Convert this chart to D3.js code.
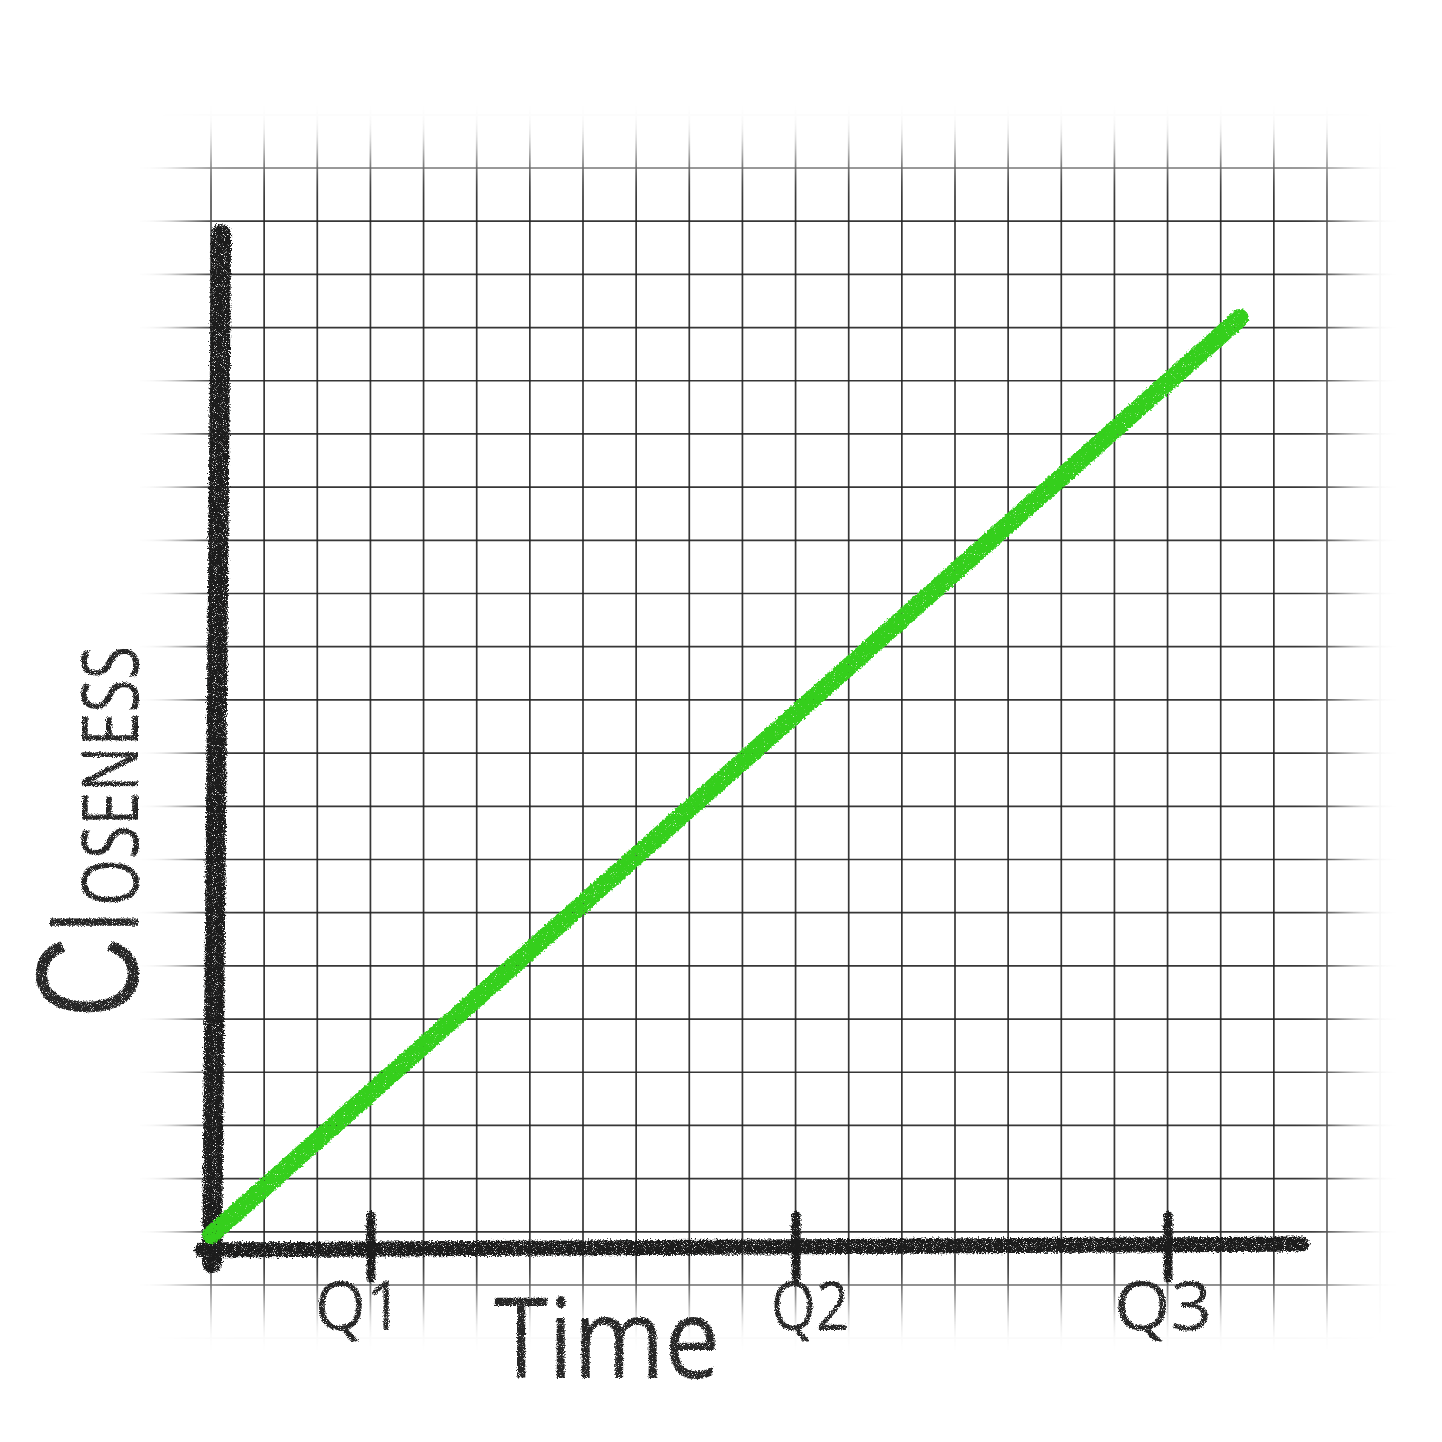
<!DOCTYPE html>
<html>
<head>
<meta charset="utf-8">
<script src="https://cdn.jsdelivr.net/npm/d3@7"></script>
<style>
  html, body { margin: 0; padding: 0; background: #ffffff; }
  svg { display: block; }
</style>
</head>
<body>
<svg id="chart" width="1442" height="1442"></svg>
<script>
// ---- data (grid units) ----
const quarters = ["Q1", "Q2", "Q3"];
const quarterTime = [3, 11, 18];
const lineTime = [0, 19.36];
const lineCloseness = [0.94, 18.18];
const xAxisTime = [-0.17, 20.53];
const xAxisCloseness = [0.66, 0.77];
const yAxisTime = [0.02, 0.19];
const yAxisCloseness = [0.41, 19.76];
const gridCols = d3.range(0, 23);
const gridRows = d3.range(-1, 23);
const xTitle = "Time";
const yTitle = ["C", "l", "oseness"];

const W = 1442, H = 1442;
const svg = d3.select("#chart");
svg.append("rect").attr("width", W).attr("height", H).attr("fill", "#ffffff");

const x = d3.scaleLinear().domain([0, 21]).range([211, 1327]);
const y = d3.scaleLinear().domain([0, 21]).range([1285, 168]);

const defs = svg.append("defs");
function region(sel) {
  return sel.attr("filterUnits", "userSpaceOnUse")
    .attr("x", -3000).attr("y", -3000).attr("width", 6000).attr("height", 6000);
}
// blur for mask
const blur = region(defs.append("filter").attr("id", "blur"));
blur.append("feGaussianBlur").attr("stdDeviation", 22);

const mask = defs.append("mask").attr("id", "fade")
  .attr("maskUnits", "userSpaceOnUse").attr("x", 0).attr("y", 0).attr("width", W).attr("height", H);
mask.append("rect").attr("x", 188).attr("y", 158).attr("width", 1156).attr("height", 1140)
  .attr("fill", "#fff").attr("filter", "url(#blur)");

// crayon texture filter
function crayon(id, scale, freq, seed, grainA, grainB) {
  const f = region(defs.append("filter").attr("id", id));
  f.append("feTurbulence").attr("type", "fractalNoise").attr("baseFrequency", freq)
    .attr("numOctaves", 2).attr("seed", seed).attr("result", "noise");
  f.append("feDisplacementMap").attr("in", "SourceGraphic").attr("in2", "noise")
    .attr("scale", scale).attr("xChannelSelector", "R").attr("yChannelSelector", "G").attr("result", "disp");
  f.append("feTurbulence").attr("type", "fractalNoise").attr("baseFrequency", 1.1)
    .attr("numOctaves", 1).attr("seed", seed + 7).attr("result", "grainNoise");
  f.append("feColorMatrix").attr("in", "grainNoise").attr("type", "matrix")
    .attr("values", `0 0 0 0 0  0 0 0 0 0  0 0 0 0 0  ${grainA} 0 0 0 ${grainB}`).attr("result", "grain");
  f.append("feComposite").attr("in", "disp").attr("in2", "grain").attr("operator", "in");
}
crayon("crayon", 6, 0.6, 3, 7, -1.8);
crayon("crayonText", 4, 0.7, 11, 7, -1.8);
crayon("crayonGreen", 4, 0.5, 5, 8, -1.6);

// ---- grid ----
const grid = svg.append("g").attr("mask", "url(#fade)")
  .attr("stroke", "#262626").attr("stroke-width", 1.7).attr("stroke-opacity", 0.92);
grid.selectAll("line.v").data(gridCols).join("line").attr("class", "v")
  .attr("x1", d => x(d)).attr("x2", d => x(d))
  .attr("y1", 90).attr("y2", 1410);
grid.selectAll("line.h").data(gridRows).join("line").attr("class", "h")
  .attr("y1", d => y(d)).attr("y2", d => y(d))
  .attr("x1", 140).attr("x2", 1410);

// ---- axes (thick crayon strokes) ----
const ink = "#1c1d1d";
svg.append("line")
  .attr("x1", x(yAxisTime[0])).attr("y1", y(yAxisCloseness[0]))
  .attr("x2", x(yAxisTime[1])).attr("y2", y(yAxisCloseness[1]))
  .attr("stroke", ink).attr("stroke-width", 20).attr("stroke-linecap", "round")
  .attr("filter", "url(#crayon)");
svg.append("line")
  .attr("x1", x(xAxisTime[0])).attr("y1", y(xAxisCloseness[0]))
  .attr("x2", x(xAxisTime[1])).attr("y2", y(xAxisCloseness[1]))
  .attr("stroke", ink).attr("stroke-width", 15).attr("stroke-linecap", "round")
  .attr("filter", "url(#crayon)");

// x axis ticks + labels via d3.axisBottom
const axisY = y(0.7);
const nudges = [-12, 14, -5];
const xAxis = d3.axisBottom(x).tickValues(quarterTime)
  .tickFormat((d, i) => quarters[i]).tickSize(62).tickPadding(4);
const gx = svg.append("g").attr("transform", `translate(0,${axisY - 32})`).call(xAxis);
gx.select(".domain").remove();
gx.selectAll(".tick line").attr("stroke", ink).attr("stroke-width", 9)
  .attr("stroke-linecap", "round").attr("filter", "url(#crayon)");
gx.selectAll(".tick text")
  .attr("fill", "#262626").attr("font-family", "'Open Sans', sans-serif")
  .attr("font-size", 68).attr("font-weight", 400)
  .attr("dx", (d, i) => nudges[i])
  .attr("textLength", (d, i) => [88, 78, 98][i]).attr("lengthAdjust", "spacingAndGlyphs")
  .attr("filter", "url(#crayonText)");

// ---- data line ----
const line = d3.line().x((d, i) => x(lineTime[i])).y(d => y(d));
svg.append("path").datum(lineCloseness)
  .attr("d", line)
  .attr("fill", "none").attr("stroke", "#34cf1c").attr("stroke-width", 18)
  .attr("stroke-linecap", "round").attr("filter", "url(#crayonGreen)");

// ---- titles ----
svg.append("text")
  .attr("x", 494).attr("y", 1378)
  .attr("font-family", "'Open Sans', sans-serif").attr("font-size", 112)
  .attr("fill", "#262626").attr("textLength", 226).attr("lengthAdjust", "spacingAndGlyphs")
  .attr("filter", "url(#crayonText)")
  .text(xTitle);

const yt = svg.append("text")
  .attr("transform", "translate(138,1018) rotate(-90)")
  .attr("font-family", "'Open Sans', sans-serif")
  .attr("fill", "#262626").attr("textLength", 372).attr("lengthAdjust", "spacingAndGlyphs")
  .attr("filter", "url(#crayonText)");
yt.append("tspan").attr("font-family", "'Liberation Sans', sans-serif").attr("font-size", 145).text(yTitle[0]);
yt.append("tspan").attr("font-size", 116).attr("dx", 4).text(yTitle[1]);
yt.append("tspan").attr("font-size", 78).attr("dx", 6).style("text-transform", "uppercase").text(yTitle[2]);
</script>
</body>
</html>
